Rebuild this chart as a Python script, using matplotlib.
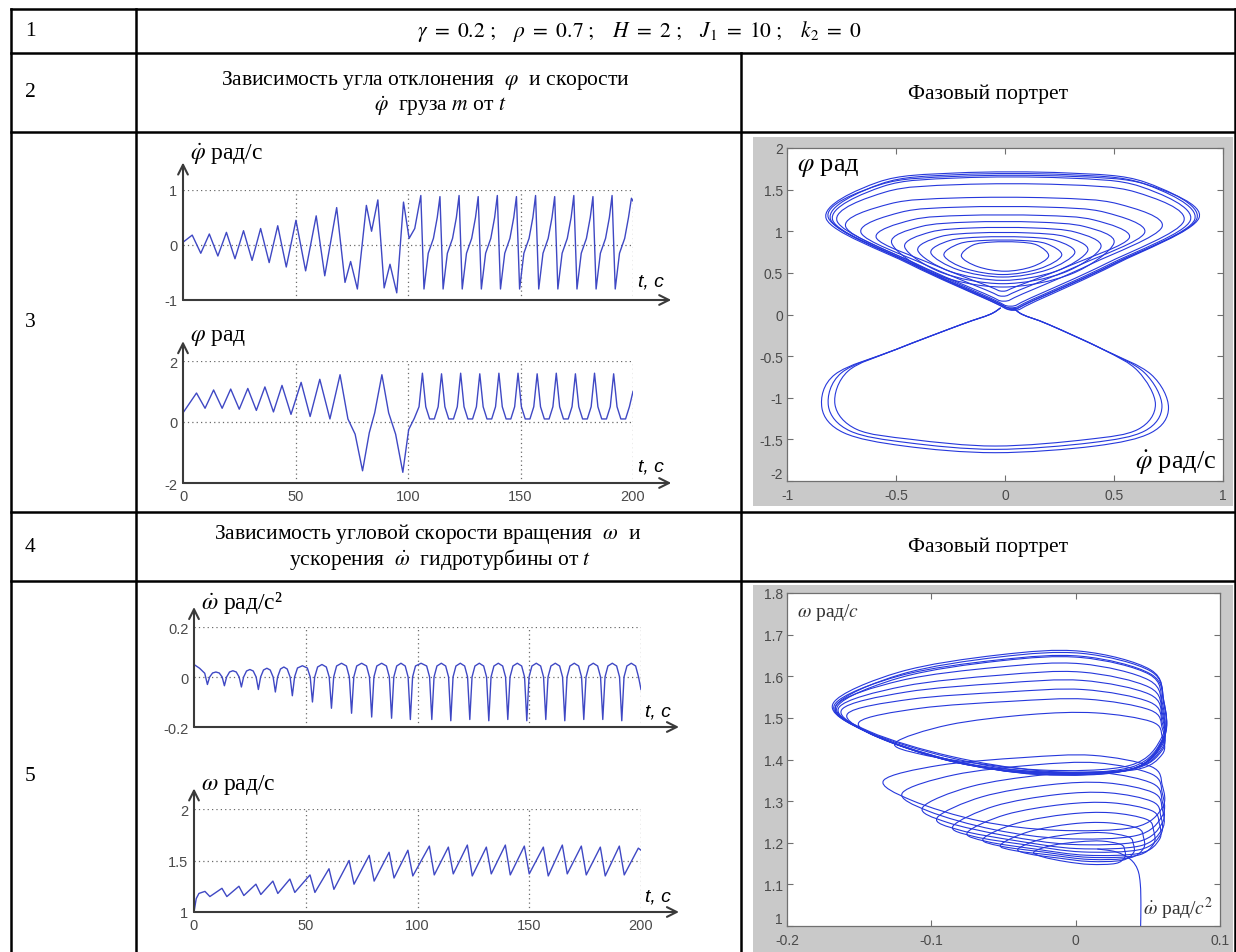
import numpy as np
import matplotlib.pyplot as plt
from matplotlib.path import Path
from matplotlib.patches import PathPatch, Rectangle
from matplotlib.lines import Line2D

plt.rcParams['mathtext.fontset'] = 'stix'
plt.rcParams['font.family'] = ['Liberation Serif', 'DejaVu Serif']

W, H = 1236, 953

# ---------------- data ----------------
# row 3, phi_dot(t): irregular start, key points
dphi_t = [0, 4.1, 7.9, 11.7, 15.5, 19.3, 23.1, 26.9, 30.7, 34.5, 38.3, 42.1, 45.9,
          50.2, 54.5, 59.2, 63.0, 68.3, 72.0, 74.5, 77.5, 81.5, 83.8, 86.6, 89.4,
          92.0, 95.0, 98.0, 100.5, 103.0]
dphi_v = [0.05, 0.18, -0.15, 0.2, -0.2, 0.23, -0.25, 0.26, -0.28, 0.3, -0.32, 0.35, -0.4,
          0.45, -0.47, 0.53, -0.56, 0.68, -0.68, -0.3, -0.8, 0.72, 0.25, 0.82, -0.78,
          -0.35, -0.87, 0.78, 0.12, 0.3]
# regular part: maxima and one typical cycle after each maximum
dphi_pk_t = [105.7, 114.2, 122.7, 131.2, 139.7, 148.2, 156.7, 165.2, 173.7, 182.2, 190.7]
dphi_pk_v = [0.9, 0.88, 0.9, 0.88, 0.9, 0.88, 0.9, 0.88, 0.9, 0.88, 0.9]
dphi_cyc_dt = [1.4, 3.3, 5.6, 7.3]
dphi_cyc_v = [-0.8, -0.15, 0.12, 0.5]
dphi_end_t = [199.3, 200]
dphi_end_v = [0.85, 0.8]

# row 3, phi(t)
phi_t = [0, 6.0, 9.8, 13.6, 17.4, 21.2, 25.0, 28.8, 32.6, 36.4, 40.2, 44.0, 48.0,
         52.5, 56.5, 60.8, 65.3, 69.8, 73.3, 76.5, 79.8, 82.8, 85.2, 88.4, 91.4,
         94.5, 97.7, 100.3, 102.8, 104.9]
phi_v = [0.3, 0.95, 0.45, 1.05, 0.45, 1.08, 0.42, 1.1, 0.38, 1.15, 0.33, 1.2, 0.25,
         1.3, 0.18, 1.4, 0.1, 1.55, 0.1, -0.4, -1.6, -0.35, 0.3, 1.55, 0.3,
         -0.4, -1.65, -0.25, 0.12, 0.5]
phi_pk_t = [106.4, 114.9, 123.4, 131.9, 140.4, 148.9, 157.4, 165.9, 174.4, 182.9, 191.4]
phi_pk_v = [1.6, 1.58, 1.6, 1.58, 1.6, 1.6, 1.58, 1.6, 1.58, 1.6, 1.58]
phi_cyc_dt = [1.5, 3.2, 5.3, 7.0]
phi_cyc_v = [0.5, 0.1, 0.1, 0.5]
phi_end_t = [200]
phi_end_v = [1.0]

# row 5, omega_dot(t): sharp troughs with round arches between them
omd_start_t = [0, 2.5, 4.8]
omd_start_v = [0.05, 0.035, 0.015]
omd_tr_t = [6.0, 13.6, 21.2, 28.8, 36.4, 44.0, 53.0, 61.5, 70.5, 79.5, 88.4, 96.8,
            106.4, 114.9, 123.4, 131.9, 140.4, 148.9, 157.4, 165.9, 174.4, 182.9, 191.4]
omd_tr_v = [-0.03, -0.035, -0.04, -0.05, -0.06, -0.075, -0.1, -0.125, -0.145, -0.16, -0.165, -0.17,
            -0.17, -0.175, -0.17, -0.175, -0.17, -0.175, -0.17, -0.175, -0.17, -0.17, -0.175]
omd_top_v = [0.02, 0.025, 0.03, 0.035, 0.04, 0.045, 0.05, 0.055, 0.055, 0.055, 0.055, 0.055,
             0.055, 0.055, 0.055, 0.055, 0.055, 0.055, 0.055, 0.055, 0.055, 0.055, 0.055]
omd_last_tr = 199.9
omd_end_t, omd_end_v = 200, -0.05

# row 5, omega(t): a peak before and a trough after each omega_dot trough
om_start_t = [0, 1.0, 2.2, 3.5]
om_start_v = [1.0, 1.13, 1.18, 1.19]
om_pk_v = [1.2, 1.23, 1.25, 1.27, 1.3, 1.32, 1.36, 1.42, 1.5, 1.55, 1.58, 1.6,
           1.64, 1.63, 1.65, 1.63, 1.65, 1.64, 1.63, 1.65, 1.64, 1.63, 1.64, 1.62]
om_tr_v = [1.15, 1.15, 1.16, 1.17, 1.18, 1.19, 1.19, 1.22, 1.27, 1.3, 1.33, 1.35,
           1.36, 1.37, 1.35, 1.37, 1.36, 1.37, 1.35, 1.37, 1.36, 1.35, 1.36]
om_end_t, om_end_v = 200, 1.6

# row 3 phase portrait: upper lobe loops (left, right, top, bottom, y of widest point)
up_L = [-0.82, -0.80, -0.81, -0.79, -0.77, -0.73, -0.66, -0.59, -0.52, -0.46, -0.40, -0.34, -0.28, -0.20]
up_R = [0.88, 0.87, 0.89, 0.85, 0.82, 0.72, 0.64, 0.57, 0.50, 0.44, 0.38, 0.32, 0.26, 0.20]
up_T = [1.70, 1.68, 1.66, 1.64, 1.56, 1.40, 1.29, 1.19, 1.11, 1.04, 0.98, 0.93, 0.89, 0.87]
up_B = [0.06, 0.07, 0.05, 0.08, 0.10, 0.16, 0.22, 0.28, 0.33, 0.37, 0.41, 0.45, 0.48, 0.52]
up_Y = [1.15, 1.14, 1.16, 1.13, 1.12, 1.05, 0.98, 0.92, 0.86, 0.81, 0.77, 0.74, 0.71, 0.70]
# lower lobe loops (left, right, bottom, y of widest point)
lo_L = [-0.84, -0.81, -0.78]
lo_R = [0.75, 0.72, 0.69]
lo_B = [-1.66, -1.62, -1.58]
lo_Y = [-1.12, -1.10, -1.08]

# row 5 phase portrait: loops (left corner x, left corner y, right, top, bottom)
mid_L = [-0.029, -0.040, -0.052, -0.064, -0.075, -0.085, -0.096, -0.106, -0.120, -0.133]
mid_Y = [1.178, 1.185, 1.195, 1.21, 1.225, 1.24, 1.26, 1.285, 1.32, 1.35]
mid_R = [0.034, 0.040, 0.047, 0.054, 0.058, 0.059, 0.060, 0.060, 0.060, 0.060]
mid_T = [1.204, 1.224, 1.248, 1.272, 1.296, 1.32, 1.344, 1.368, 1.392, 1.41]
mid_B = [1.148, 1.155, 1.16, 1.165, 1.17, 1.178, 1.186, 1.196, 1.21, 1.23]
top_L = [-0.125, -0.150, -0.158, -0.162, -0.164, -0.166, -0.167, -0.168, -0.166, -0.165]
top_Y = [1.44, 1.49, 1.51, 1.52, 1.525, 1.53, 1.532, 1.535, 1.53, 1.528]
top_R = [0.060, 0.060, 0.060, 0.060, 0.060, 0.060, 0.061, 0.061, 0.061, 0.060]
top_T = [1.512, 1.545, 1.568, 1.59, 1.61, 1.63, 1.648, 1.66, 1.655, 1.645]
top_B = [1.37, 1.37, 1.368, 1.368, 1.366, 1.365, 1.365, 1.364, 1.37, 1.375]
tail_x = [0.045, 0.0452, 0.0448, 0.043, 0.038, 0.028, 0.015]
tail_y = [1.0, 1.05, 1.1, 1.135, 1.16, 1.178, 1.185]

# ---------------- helpers ----------------
fig = plt.figure(figsize=(W / 100, H / 100), dpi=100)
fig.patch.set_facecolor('white')

TS_COL = '#3f48c4'
PH_COL = '#2638dc'
AX_COL = '#3a3a3a'
TK_COL = '#4a4a4a'


def px_axes(x0, y0, x1, y1):
    return fig.add_axes([x0 / W, 1 - y1 / H, (x1 - x0) / W, (y1 - y0) / H])


def ftext(x, y, s, **kw):
    fig.text(x / W, 1 - y / H, s, **kw)


def hline(y, x0, x1):
    fig.add_artist(Line2D([x0 / W, x1 / W], [1 - y / H, 1 - y / H], color='black', lw=1.8, zorder=5))


def vline(x, y0, y1):
    fig.add_artist(Line2D([x / W, x / W], [1 - y0 / H, 1 - y1 / H], color='black', lw=1.8, zorder=5))


def periodic(t0, v0, pk_t, pk_v, cyc_dt, cyc_v, end_t, end_v):
    t, v = list(t0), list(v0)
    for tp, vp in zip(pk_t, pk_v):
        t.append(tp)
        v.append(vp)
        t += [tp + d for d in cyc_dt]
        v += list(cyc_v)
    return t + list(end_t), v + list(end_v)


def smooth_path(xs, ys, closed=True):
    p = np.column_stack([xs, ys]).astype(float)
    n = len(p)
    verts, codes = [p[0]], [Path.MOVETO]
    for i in range(n if closed else n - 1):
        a = p[(i - 1) % n] if (closed or i > 0) else p[0]
        b = p[i]
        c = p[(i + 1) % n]
        d = p[(i + 2) % n] if (closed or i + 2 < n) else p[-1]
        verts += [b + (c - a) / 6, c - (d - b) / 6, c]
        codes += [Path.CURVE4] * 3
    return Path(verts, codes)


def upper_loop(L, R, T, B, Y):
    xb = 0.5 * (L + R)
    if B < 0.3:   # wide loops narrow down towards the neck at phi ~ 0
        xs = [xb, xb + 0.12 * (R - xb), xb + 0.55 * (R - xb), R, xb + 0.72 * (R - xb), xb + 0.3 * (R - xb),
              xb + 0.3 * (L - xb), xb + 0.72 * (L - xb), L, xb + 0.55 * (L - xb), xb + 0.12 * (L - xb)]
        ys = [B, B + 0.1 * (Y - B), B + 0.5 * (Y - B), Y, Y + 0.8 * (T - Y), T,
              T, Y + 0.8 * (T - Y), Y, B + 0.5 * (Y - B), B + 0.1 * (Y - B)]
    else:
        xs = [xb, xb + 0.62 * (R - xb), R, xb + 0.74 * (R - xb), xb + 0.3 * (R - xb),
              xb + 0.3 * (L - xb), xb + 0.74 * (L - xb), L, xb + 0.62 * (L - xb)]
        ys = [B, B + 0.3 * (Y - B), Y, Y + 0.78 * (T - Y), T,
              T, Y + 0.78 * (T - Y), Y, B + 0.3 * (Y - B)]
    return xs, ys


def lower_loop(L, R, B, Y):
    xs = [-0.02, -0.07, -0.2, -0.5, L + 0.06, L, L + 0.1, 0.55 * L, 0.5 * (L + R), 0.55 * R,
          R - 0.08, R, R - 0.08, 0.45, 0.2, 0.08, 0.04]
    ys = [0.08, 0.0, -0.12, -0.42, Y + 0.4, Y, Y - 0.3, B + 0.08, B, B + 0.08,
          Y - 0.3, Y, Y + 0.4, -0.42, -0.12, 0.0, 0.08]
    return xs, ys


def egg_loop(L, Yl, R, T, B):
    w, h = R - L, T - B
    xs = [L, L + 0.2 * w, L + 0.5 * w, L + 0.75 * w, R - 0.04 * w, R, R, R - 0.1 * w,
          L + 0.62 * w, L + 0.35 * w, L + 0.1 * w]
    ys = [Yl, Yl + 0.6 * (T - Yl), T - 0.03 * h, T, T - 0.15 * h, T - 0.4 * h, B + 0.3 * h,
          B + 0.04 * h, B, B + 0.12 * h, B + 0.6 * (Yl - B)]
    return xs, ys


def time_axes(box, t, v, ylim, yticks, ylabels, label, label_y, tip_y, tc_y, xlabels):
    ax = px_axes(*box)
    ax.set_xlim(0, 200)
    ax.set_ylim(*ylim)
    ax.set_facecolor('none')
    for s in ax.spines.values():
        s.set_visible(False)
    ax.vlines([50, 100, 150, 200], ylim[0], ylim[1], colors='#6a6a6a', linestyles=(0, (1, 2.5)), lw=0.9)
    ax.hlines(yticks[1:], 0, 200, colors='#6a6a6a', linestyles=(0, (1, 2.5)), lw=0.9)
    ax.plot(t, v, color=TS_COL, lw=1.0, zorder=3)
    arr = dict(arrowstyle='->,head_length=0.7,head_width=0.35', color=AX_COL, lw=1.5, shrinkA=0, shrinkB=0)
    ax.annotate('', xy=(217, ylim[0]), xytext=(0, ylim[0]), arrowprops=arr, annotation_clip=False)
    ax.annotate('', xy=(0, tip_y), xytext=(0, ylim[0]), arrowprops=arr, annotation_clip=False)
    ax.set_yticks(yticks, ylabels)
    if xlabels:
        ax.set_xticks([0, 50, 100, 150, 200], ['0', '50', '100', '150', '200'])
    else:
        ax.set_xticks([])
    ax.tick_params(length=0, labelsize=10.5, labelcolor=TK_COL, pad=4)
    for lab in ax.get_xticklabels() + ax.get_yticklabels():
        lab.set_family('Liberation Sans')
    ax.text(3, label_y, label, fontsize=17, va='center', ha='left', clip_on=False)
    ax.text(202, tc_y, 't, c', family='Liberation Sans', style='italic', fontsize=14,
            va='center', ha='left', clip_on=False)
    return ax


def phase_axes(box, xlim, ylim, xt, xl, yt, yl):
    ax = px_axes(*box)
    ax.set_xlim(*xlim)
    ax.set_ylim(*ylim)
    ax.set_xticks(xt, xl)
    ax.set_yticks(yt, yl)
    ax.tick_params(direction='in', top=True, right=True, length=4, width=0.8, color='#707070',
                   labelsize=10, labelcolor=TK_COL, pad=3)
    ax.tick_params(axis='x', pad=5)
    for lab in ax.get_xticklabels() + ax.get_yticklabels():
        lab.set_family('Liberation Sans')
    # MATLAB puts the lowest y label a little above the corner
    ax.get_yticklabels()[0].set_va('bottom')
    for s in ax.spines.values():
        s.set_color('#707070')
        s.set_linewidth(0.9)
    return ax


# ---------------- table ----------------
for y in [10, 54, 133, 513, 582]:
    hline(y, 11, 1235)
for x in [11, 136, 1235]:
    vline(x, 10, 953)
vline(741, 54, 953)

fs = 15.5
ftext(25, 32, '1', fontsize=fs, va='center')
ftext(640, 31, r'$\gamma\ =\ 0.2\ ;\ \ \ \rho\ =\ 0.7\ ;\ \ \ H\ =\ 2\ ;\ \ \ J_1\ =\ 10\ ;\ \ \ k_2\ =\ 0$',
      fontsize=fs, ha='center', va='center')
ftext(25, 93, '2', fontsize=fs, va='center')
ftext(425, 80, r'Зависимость угла отклонения  $\varphi$  и скорости', fontsize=fs, ha='center', va='center')
ftext(440, 106, r'$\dot{\varphi}$  груза $m$ от $t$', fontsize=fs, ha='center', va='center')
ftext(988, 94, 'Фазовый портрет', fontsize=fs, ha='center', va='center')
ftext(25, 323, '3', fontsize=fs, va='center')
ftext(25, 547, '4', fontsize=fs, va='center')
ftext(428, 534, r'Зависимость угловой скорости вращения  $\omega$  и', fontsize=fs, ha='center', va='center')
ftext(440, 559, r'ускорения  $\dot{\omega}$  гидротурбины от $t$', fontsize=fs, ha='center', va='center')
ftext(988, 547, 'Фазовый портрет', fontsize=fs, ha='center', va='center')
ftext(25, 777, '5', fontsize=fs, va='center')

# ---------------- row 3 left ----------------
t1, v1 = periodic(dphi_t, dphi_v, dphi_pk_t, dphi_pk_v, dphi_cyc_dt, dphi_cyc_v, dphi_end_t, dphi_end_v)
time_axes((183, 191, 633, 301), t1, v1, (-1, 1), [-1, 0, 1], ['-1', '0', '1'],
          r'$\dot{\varphi}$ рад/с', 1.66, 1.5, -0.65, False)
t2, v2 = periodic(phi_t, phi_v, phi_pk_t, phi_pk_v, phi_cyc_dt, phi_cyc_v, phi_end_t, phi_end_v)
time_axes((183, 362, 633, 484), t2, v2, (-2, 2), [-2, 0, 2], ['-2', '0', '2'],
          r'$\varphi$ рад', 2.8, 2.65, -1.45, True)

# ---------------- row 5 left ----------------
t3, v3 = list(omd_start_t), list(omd_start_v)
for i, (tr, tv, top) in enumerate(zip(omd_tr_t, omd_tr_v, omd_top_v)):
    nxt = omd_tr_t[i + 1] if i + 1 < len(omd_tr_t) else omd_last_tr
    mid = 0.5 * (tr + nxt)
    t3 += [tr, tr + 1.0, tr + 2.3, mid, nxt - 2.3, nxt - 1.0]
    v3 += [tv, 0.0, 0.8 * top, top, 0.8 * top, 0.0]
t3.append(omd_end_t)
v3.append(omd_end_v)
time_axes((194, 628, 641, 728), t3, v3, (-0.2, 0.2), [-0.2, 0, 0.2], ['-0.2', '0', '0.2'],
          r'$\dot{\omega}$ рад/с²', 0.3, 0.28, -0.135, False)

t4, v4 = list(om_start_t), list(om_start_v)
for tr, pk, tv in zip(omd_tr_t, om_pk_v, om_tr_v):
    t4 += [tr - 1.1, tr + 1.1]
    v4 += [pk, tv]
t4 += [omd_last_tr - 1.1, om_end_t]
v4 += [om_pk_v[-1], om_end_v]
time_axes((194, 810, 641, 913), t4, v4, (1, 2), [1, 1.5, 2], ['1', '1.5', '2'],
          r'$\omega$ рад/с', 2.245, 2.2, 1.16, True)

# ---------------- row 3 right: phase portrait ----------------
fig.add_artist(Rectangle((753 / W, 1 - 507 / H), (1233 - 753) / W, (507 - 138) / H,
                         transform=fig.transFigure, fc='#c9c9c9', ec='none', zorder=-1))
ax5 = phase_axes((787, 149, 1223, 482), (-1, 1), (-2, 2),
                 [-1, -0.5, 0, 0.5, 1], ['-1', '-0.5', '0', '0.5', '1'],
                 [-2, -1.5, -1, -0.5, 0, 0.5, 1, 1.5, 2],
                 ['-2', '-1.5', '-1', '-0.5', '0', '0.5', '1', '1.5', '2'])
for L, R, T, B, Y in zip(up_L, up_R, up_T, up_B, up_Y):
    xs, ys = upper_loop(L, R, T, B, Y)
    ax5.add_patch(PathPatch(smooth_path(xs, ys), fill=False, ec=PH_COL, lw=0.8))
for L, R, B, Y in zip(lo_L, lo_R, lo_B, lo_Y):
    xs, ys = lower_loop(L, R, B, Y)
    ax5.add_patch(PathPatch(smooth_path(xs, ys, closed=False), fill=False, ec=PH_COL, lw=0.8))
ax5.text(0.022, 0.975, r'$\varphi$ рад', transform=ax5.transAxes, fontsize=19, va='top', ha='left')
ax5.text(0.985, 0.015, r'$\dot{\varphi}$ рад/с', transform=ax5.transAxes, fontsize=19, va='bottom', ha='right')

# ---------------- row 5 right: phase portrait ----------------
fig.add_artist(Rectangle((753 / W, 0), (1233 - 753) / W, (H - 586) / H,
                         transform=fig.transFigure, fc='#c9c9c9', ec='none', zorder=-1))
ax6 = phase_axes((787, 594, 1220, 927), (-0.2, 0.1), (1, 1.8),
                 [-0.2, -0.1, 0, 0.1], ['-0.2', '-0.1', '0', '0.1'],
                 [1, 1.1, 1.2, 1.3, 1.4, 1.5, 1.6, 1.7, 1.8],
                 ['1', '1.1', '1.2', '1.3', '1.4', '1.5', '1.6', '1.7', '1.8'])
ax6.add_patch(PathPatch(smooth_path(tail_x, tail_y, closed=False), fill=False, ec=PH_COL, lw=0.8))
for L, Y, R, T, B in zip(mid_L + top_L, mid_Y + top_Y, mid_R + top_R, mid_T + top_T, mid_B + top_B):
    xs, ys = egg_loop(L, Y, R, T, B)
    ax6.add_patch(PathPatch(smooth_path(xs, ys), fill=False, ec=PH_COL, lw=0.8))
ax6.text(0.022, 0.975, r'$\omega$ рад/$c$', transform=ax6.transAxes, fontsize=14, va='top', ha='left',
         color='#333333')
ax6.text(0.985, 0.015, r'$\dot{\omega}$ рад/$c^2$', transform=ax6.transAxes, fontsize=14, va='bottom',
         ha='right', color='#333333')

fig.savefig('out.png', dpi=100)
